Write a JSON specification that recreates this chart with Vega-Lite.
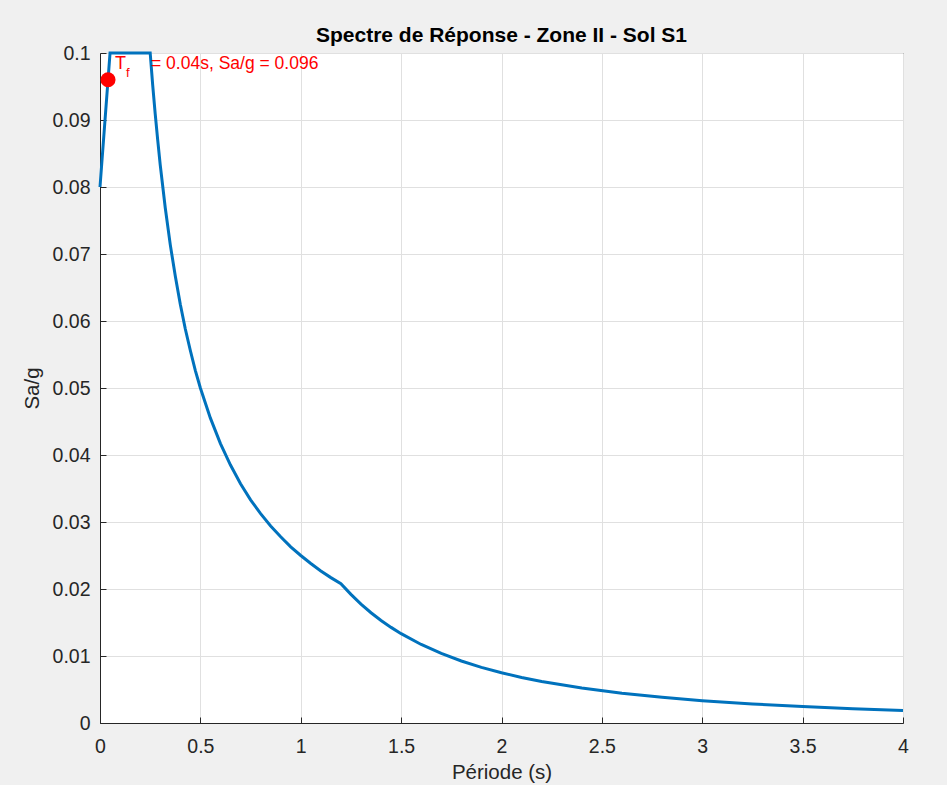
{
  "$schema": "https://vega.github.io/schema/vega-lite/v6.json",
  "width": 803,
  "height": 670,
  "autosize": {"type": "none"},
  "padding": {"left": 100, "top": 53, "right": 44, "bottom": 62},
  "background": "#f0f0f0",
  "title": {
    "text": "Spectre de Réponse - Zone II - Sol S1",
    "fontSize": 21,
    "fontWeight": "bold",
    "font": "Liberation Sans",
    "color": "#000000",
    "offset": -3
  },
  "datasets": {
    "spectre": [
      {"T": 0, "Sa": 0.08},
      {"T": 0.05, "Sa": 0.1},
      {"T": 0.25, "Sa": 0.1},
      {"T": 0.2625, "Sa": 0.0952},
      {"T": 0.275, "Sa": 0.0909},
      {"T": 0.2875, "Sa": 0.087},
      {"T": 0.3, "Sa": 0.0833},
      {"T": 0.325, "Sa": 0.0769},
      {"T": 0.35, "Sa": 0.0714},
      {"T": 0.375, "Sa": 0.0667},
      {"T": 0.4, "Sa": 0.0625},
      {"T": 0.425, "Sa": 0.0588},
      {"T": 0.45, "Sa": 0.0556},
      {"T": 0.475, "Sa": 0.0526},
      {"T": 0.5, "Sa": 0.05},
      {"T": 0.55, "Sa": 0.0455},
      {"T": 0.6, "Sa": 0.0417},
      {"T": 0.65, "Sa": 0.0385},
      {"T": 0.7, "Sa": 0.0357},
      {"T": 0.75, "Sa": 0.0333},
      {"T": 0.8, "Sa": 0.03125},
      {"T": 0.85, "Sa": 0.0294},
      {"T": 0.9, "Sa": 0.0278},
      {"T": 0.95, "Sa": 0.0263},
      {"T": 1.0, "Sa": 0.025},
      {"T": 1.05, "Sa": 0.0238},
      {"T": 1.1, "Sa": 0.0227},
      {"T": 1.15, "Sa": 0.0217},
      {"T": 1.2, "Sa": 0.0208},
      {"T": 1.25, "Sa": 0.0192},
      {"T": 1.3, "Sa": 0.01775},
      {"T": 1.35, "Sa": 0.01646},
      {"T": 1.4, "Sa": 0.01531},
      {"T": 1.45, "Sa": 0.01427},
      {"T": 1.5, "Sa": 0.01333},
      {"T": 1.6, "Sa": 0.01172},
      {"T": 1.7, "Sa": 0.01038},
      {"T": 1.8, "Sa": 0.00926},
      {"T": 1.9, "Sa": 0.00831},
      {"T": 2.0, "Sa": 0.0075},
      {"T": 2.1, "Sa": 0.0068},
      {"T": 2.2, "Sa": 0.0062},
      {"T": 2.4, "Sa": 0.00521},
      {"T": 2.6, "Sa": 0.00444},
      {"T": 2.8, "Sa": 0.00383},
      {"T": 3.0, "Sa": 0.00333},
      {"T": 3.25, "Sa": 0.00284},
      {"T": 3.5, "Sa": 0.00245},
      {"T": 3.75, "Sa": 0.00213},
      {"T": 4.0, "Sa": 0.001875}
    ],
    "point": [{"T": 0.04, "Sa": 0.096}]
  },
  "encoding": {
    "x": {
      "field": "T",
      "type": "quantitative",
      "scale": {"domain": [0, 4], "nice": false, "zero": false},
      "axis": {
        "title": "Période (s)",
        "values": [0, 0.5, 1, 1.5, 2, 2.5, 3, 3.5, 4],
        "format": "~g",
        "labelFlush": false,
        "labelPadding": 20,
        "titlePadding": 7
      }
    },
    "y": {
      "field": "Sa",
      "type": "quantitative",
      "scale": {"domain": [0, 0.1], "nice": false, "zero": false},
      "axis": {
        "title": "Sa/g",
        "values": [0, 0.01, 0.02, 0.03, 0.04, 0.05, 0.06, 0.07, 0.08, 0.09, 0.1],
        "format": "~g",
        "labelFlush": false,
        "labelPadding": 16,
        "titlePadding": 10
      }
    }
  },
  "layer": [
    {
      "data": {"name": "spectre"},
      "mark": {"type": "line", "color": "#0072BD", "strokeWidth": 3, "clip": false}
    },
    {
      "data": {"name": "point"},
      "mark": {"type": "circle", "color": "#FF0000", "opacity": 1, "size": 225}
    },
    {
      "data": {"name": "point"},
      "mark": {"type": "text", "color": "#FF0000", "fontSize": 18, "font": "Liberation Sans", "align": "left", "baseline": "alphabetic", "dx": 7, "dy": -11, "text": "T"}
    },
    {
      "data": {"name": "point"},
      "mark": {"type": "text", "color": "#FF0000", "fontSize": 13, "font": "Liberation Sans", "align": "left", "baseline": "alphabetic", "dx": 18, "dy": -3, "text": "f"}
    },
    {
      "data": {"name": "point"},
      "mark": {"type": "text", "color": "#FF0000", "fontSize": 17.5, "font": "Liberation Sans", "align": "left", "baseline": "alphabetic", "dx": 43, "dy": -11, "text": "= 0.04s, Sa/g = 0.096"}
    }
  ],
  "config": {
    "view": {"fill": "#ffffff", "stroke": "#262626", "strokeWidth": 1},
    "font": "Liberation Sans",
    "axis": {
      "domainColor": "#262626",
      "domainWidth": 1,
      "gridColor": "#e0e0e0",
      "gridWidth": 1,
      "grid": true,
      "ticks": true,
      "tickSize": -6,
      "tickColor": "#262626",
      "labelFont": "Liberation Sans",
      "labelFontSize": 19.5,
      "labelColor": "#262626",
      "titleFont": "Liberation Sans",
      "titleFontSize": 20.5,
      "titleFontWeight": "normal",
      "titleColor": "#262626"
    }
  }
}
